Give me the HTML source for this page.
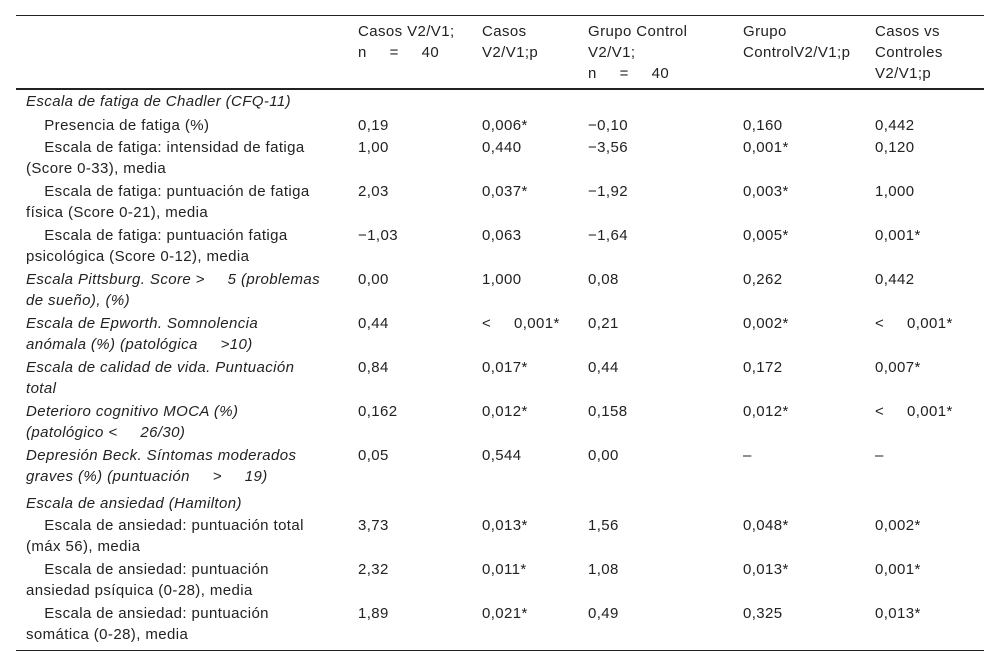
<!DOCTYPE html><html><head><meta charset="utf-8"><style>
body{margin:0;width:1000px;height:667px;background:#fff;position:relative;font-family:"Liberation Sans",sans-serif;font-size:15px;letter-spacing:0.4px;color:#222;}
.l{position:absolute;left:16px;width:968px;background:#222;}
.c{position:absolute;line-height:21px;white-space:nowrap;}
i{font-style:italic}
</style></head><body>
<div class="l" style="top:15px;height:1px"></div>
<div class="l" style="top:88px;height:2px"></div>
<div class="l" style="top:650px;height:1px"></div>
<div class="c" style="left:358px;top:21px">Casos V2/V1;<br>n&nbsp;&nbsp;&nbsp;&nbsp; =&nbsp;&nbsp;&nbsp;&nbsp; 40</div>
<div class="c" style="left:482px;top:21px">Casos<br>V2/V1;p</div>
<div class="c" style="left:588px;top:21px">Grupo Control<br>V2/V1;<br>n&nbsp;&nbsp;&nbsp;&nbsp; =&nbsp;&nbsp;&nbsp;&nbsp; 40</div>
<div class="c" style="left:743px;top:21px">Grupo<br>ControlV2/V1;p</div>
<div class="c" style="left:875px;top:21px">Casos vs<br>Controles<br>V2/V1;p</div>

<div class="c" style="left:26px;top:91px"><i>Escala de fatiga de Chadler (CFQ-11)</i></div>

<div class="c" style="left:26px;top:115px">&nbsp;&nbsp;&nbsp;&nbsp;Presencia de fatiga (%)</div>
<div class="c" style="left:358px;top:115px">0,19</div><div class="c" style="left:482px;top:115px">0,006*</div><div class="c" style="left:588px;top:115px">−0,10</div><div class="c" style="left:743px;top:115px">0,160</div><div class="c" style="left:875px;top:115px">0,442</div>

<div class="c" style="left:26px;top:137px">&nbsp;&nbsp;&nbsp;&nbsp;Escala de fatiga: intensidad de fatiga<br>(Score 0-33), media</div>
<div class="c" style="left:358px;top:137px">1,00</div><div class="c" style="left:482px;top:137px">0,440</div><div class="c" style="left:588px;top:137px">−3,56</div><div class="c" style="left:743px;top:137px">0,001*</div><div class="c" style="left:875px;top:137px">0,120</div>

<div class="c" style="left:26px;top:181px">&nbsp;&nbsp;&nbsp;&nbsp;Escala de fatiga: puntuación de fatiga<br>física (Score 0-21), media</div>
<div class="c" style="left:358px;top:181px">2,03</div><div class="c" style="left:482px;top:181px">0,037*</div><div class="c" style="left:588px;top:181px">−1,92</div><div class="c" style="left:743px;top:181px">0,003*</div><div class="c" style="left:875px;top:181px">1,000</div>

<div class="c" style="left:26px;top:225px">&nbsp;&nbsp;&nbsp;&nbsp;Escala de fatiga: puntuación fatiga<br>psicológica (Score 0-12), media</div>
<div class="c" style="left:358px;top:225px">−1,03</div><div class="c" style="left:482px;top:225px">0,063</div><div class="c" style="left:588px;top:225px">−1,64</div><div class="c" style="left:743px;top:225px">0,005*</div><div class="c" style="left:875px;top:225px">0,001*</div>

<div class="c" style="left:26px;top:269px"><i>Escala Pittsburg. Score &gt;&nbsp;&nbsp;&nbsp;&nbsp; 5 (problemas<br>de sueño), (%)</i></div>
<div class="c" style="left:358px;top:269px">0,00</div><div class="c" style="left:482px;top:269px">1,000</div><div class="c" style="left:588px;top:269px">0,08</div><div class="c" style="left:743px;top:269px">0,262</div><div class="c" style="left:875px;top:269px">0,442</div>

<div class="c" style="left:26px;top:313px"><i>Escala de Epworth. Somnolencia<br>anómala (%) (patológica&nbsp;&nbsp;&nbsp;&nbsp; &gt;10)</i></div>
<div class="c" style="left:358px;top:313px">0,44</div><div class="c" style="left:482px;top:313px">&lt;&nbsp;&nbsp;&nbsp;&nbsp; 0,001*</div><div class="c" style="left:588px;top:313px">0,21</div><div class="c" style="left:743px;top:313px">0,002*</div><div class="c" style="left:875px;top:313px">&lt;&nbsp;&nbsp;&nbsp;&nbsp; 0,001*</div>

<div class="c" style="left:26px;top:357px"><i>Escala de calidad de vida. Puntuación<br>total</i></div>
<div class="c" style="left:358px;top:357px">0,84</div><div class="c" style="left:482px;top:357px">0,017*</div><div class="c" style="left:588px;top:357px">0,44</div><div class="c" style="left:743px;top:357px">0,172</div><div class="c" style="left:875px;top:357px">0,007*</div>

<div class="c" style="left:26px;top:401px"><i>Deterioro cognitivo MOCA (%)<br>(patológico &lt;&nbsp;&nbsp;&nbsp;&nbsp; 26/30)</i></div>
<div class="c" style="left:358px;top:401px">0,162</div><div class="c" style="left:482px;top:401px">0,012*</div><div class="c" style="left:588px;top:401px">0,158</div><div class="c" style="left:743px;top:401px">0,012*</div><div class="c" style="left:875px;top:401px">&lt;&nbsp;&nbsp;&nbsp;&nbsp; 0,001*</div>

<div class="c" style="left:26px;top:445px"><i>Depresión Beck. Síntomas moderados<br>graves (%) (puntuación&nbsp;&nbsp;&nbsp;&nbsp; &gt;&nbsp;&nbsp;&nbsp;&nbsp; 19)</i></div>
<div class="c" style="left:358px;top:445px">0,05</div><div class="c" style="left:482px;top:445px">0,544</div><div class="c" style="left:588px;top:445px">0,00</div><div class="c" style="left:743px;top:445px">–</div><div class="c" style="left:875px;top:445px">–</div>

<div class="c" style="left:26px;top:493px"><i>Escala de ansiedad (Hamilton)</i></div>

<div class="c" style="left:26px;top:515px">&nbsp;&nbsp;&nbsp;&nbsp;Escala de ansiedad: puntuación total<br>(máx 56), media</div>
<div class="c" style="left:358px;top:515px">3,73</div><div class="c" style="left:482px;top:515px">0,013*</div><div class="c" style="left:588px;top:515px">1,56</div><div class="c" style="left:743px;top:515px">0,048*</div><div class="c" style="left:875px;top:515px">0,002*</div>

<div class="c" style="left:26px;top:559px">&nbsp;&nbsp;&nbsp;&nbsp;Escala de ansiedad: puntuación<br>ansiedad psíquica (0-28), media</div>
<div class="c" style="left:358px;top:559px">2,32</div><div class="c" style="left:482px;top:559px">0,011*</div><div class="c" style="left:588px;top:559px">1,08</div><div class="c" style="left:743px;top:559px">0,013*</div><div class="c" style="left:875px;top:559px">0,001*</div>

<div class="c" style="left:26px;top:603px">&nbsp;&nbsp;&nbsp;&nbsp;Escala de ansiedad: puntuación<br>somática (0-28), media</div>
<div class="c" style="left:358px;top:603px">1,89</div><div class="c" style="left:482px;top:603px">0,021*</div><div class="c" style="left:588px;top:603px">0,49</div><div class="c" style="left:743px;top:603px">0,325</div><div class="c" style="left:875px;top:603px">0,013*</div>
</body></html>
